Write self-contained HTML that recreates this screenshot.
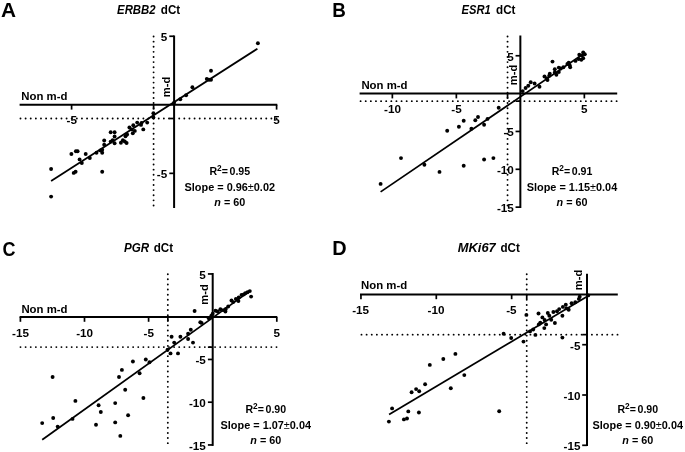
<!DOCTYPE html>
<html lang="en"><head><meta charset="utf-8"><title>dCt correlation</title>
<style>
html,body{margin:0;padding:0;background:#fff;}
svg{display:block;will-change:transform;font-family:"Liberation Sans", sans-serif;fill:#000;}
</style></head><body>
<svg width="685" height="452" viewBox="0 0 685 452">
<rect width="685" height="452" fill="#fff"/>
<text x="1.00" y="16.80" font-size="20.8" font-weight="bold" font-style="normal" >A</text>
<text x="117.10" y="14.00" font-size="12" font-weight="bold" font-style="italic" textLength="38.5" lengthAdjust="spacingAndGlyphs" >ERBB2</text>
<text x="160.80" y="14.00" font-size="12" font-weight="bold" font-style="normal" textLength="19.4" lengthAdjust="spacingAndGlyphs" >dCt</text>
<line x1="153.60" y1="36.50" x2="153.60" y2="206.30" stroke="#000" stroke-width="1.9" stroke-linecap="round" stroke-dasharray="0.01 5.11"/>
<line x1="20.50" y1="118.51" x2="277.00" y2="118.51" stroke="#000" stroke-width="1.9" stroke-linecap="round" stroke-dasharray="0.01 5.11"/>
<line x1="19.60" y1="104.80" x2="277.30" y2="104.80" stroke="#000" stroke-width="2" />
<line x1="174.10" y1="35.50" x2="174.10" y2="208.00" stroke="#000" stroke-width="2" />
<line x1="169.30" y1="36.25" x2="174.10" y2="36.25" stroke="#000" stroke-width="1.7" />
<line x1="169.30" y1="118.51" x2="174.10" y2="118.51" stroke="#000" stroke-width="1.7" />
<line x1="169.30" y1="173.35" x2="174.10" y2="173.35" stroke="#000" stroke-width="1.7" />
<line x1="71.60" y1="104.80" x2="71.60" y2="109.60" stroke="#000" stroke-width="1.7" />
<line x1="153.60" y1="104.80" x2="153.60" y2="109.60" stroke="#000" stroke-width="1.7" />
<line x1="276.60" y1="104.80" x2="276.60" y2="109.60" stroke="#000" stroke-width="1.7" />
<text x="167.20" y="41.15" font-size="11.7" font-weight="bold" font-style="normal" text-anchor="end" >5</text>
<text x="167.20" y="178.25" font-size="11.7" font-weight="bold" font-style="normal" text-anchor="end" >-5</text>
<text x="71.80" y="124.10" font-size="11.7" font-weight="bold" font-style="normal" text-anchor="middle" >-5</text>
<text x="276.60" y="124.10" font-size="11.7" font-weight="bold" font-style="normal" text-anchor="middle" >5</text>
<text x="21.30" y="99.50" font-size="10.6" font-weight="bold" font-style="normal" textLength="46.2" lengthAdjust="spacingAndGlyphs" >Non m-d</text>
<text x="170.20" y="97.30" font-size="10.6" font-weight="bold" font-style="normal" textLength="20.6" lengthAdjust="spacingAndGlyphs" transform="rotate(-90 170.20 97.30)" >m-d</text>
<text x="229.80" y="174.90" font-size="10.600000000000001" font-weight="bold" font-style="normal" text-anchor="middle" word-spacing="-1.3">R<tspan dy="-3.5" font-size="8.3">2</tspan><tspan dy="3.5">= 0.95</tspan></text>
<text x="229.80" y="191.10" font-size="10.9" font-weight="bold" font-style="normal" text-anchor="middle" >Slope = 0.96<tspan font-weight="normal">±</tspan>0.02</text>
<text x="229.80" y="206.10" font-size="10.8" font-weight="bold" font-style="normal" text-anchor="middle" ><tspan font-style="italic">n</tspan> = 60</text>
<line x1="51.10" y1="181.10" x2="257.40" y2="48.70" stroke="#000" stroke-width="1.75" />
<circle cx="51.1" cy="169.0" r="1.95"/>
<circle cx="51.1" cy="196.6" r="1.95"/>
<circle cx="71.4" cy="154.0" r="1.95"/>
<circle cx="75.9" cy="151.2" r="1.95"/>
<circle cx="77.6" cy="151.2" r="1.95"/>
<circle cx="85.7" cy="154.0" r="1.95"/>
<circle cx="79.6" cy="159.4" r="1.95"/>
<circle cx="81.8" cy="163.0" r="1.95"/>
<circle cx="89.8" cy="158.0" r="1.95"/>
<circle cx="73.7" cy="172.9" r="1.95"/>
<circle cx="75.6" cy="171.8" r="1.95"/>
<circle cx="102.2" cy="171.8" r="1.95"/>
<circle cx="96.5" cy="152.8" r="1.95"/>
<circle cx="100.4" cy="150.4" r="1.95"/>
<circle cx="102.2" cy="149.7" r="1.95"/>
<circle cx="102.2" cy="152.8" r="1.95"/>
<circle cx="104.2" cy="140.5" r="1.95"/>
<circle cx="104.2" cy="144.7" r="1.95"/>
<circle cx="110.7" cy="132.3" r="1.95"/>
<circle cx="114.6" cy="132.3" r="1.95"/>
<circle cx="114.6" cy="136.5" r="1.95"/>
<circle cx="110.7" cy="141.6" r="1.95"/>
<circle cx="112.7" cy="140.1" r="1.95"/>
<circle cx="114.6" cy="143.2" r="1.95"/>
<circle cx="120.9" cy="142.7" r="1.95"/>
<circle cx="122.9" cy="140.2" r="1.95"/>
<circle cx="124.8" cy="141.5" r="1.95"/>
<circle cx="126.6" cy="143.0" r="1.95"/>
<circle cx="125.5" cy="136.3" r="1.95"/>
<circle cx="127.1" cy="134.5" r="1.95"/>
<circle cx="132.8" cy="133.2" r="1.95"/>
<circle cx="134.8" cy="130.9" r="1.95"/>
<circle cx="131.7" cy="129.4" r="1.95"/>
<circle cx="129.4" cy="127.5" r="1.95"/>
<circle cx="133.3" cy="125.2" r="1.95"/>
<circle cx="143.3" cy="129.4" r="1.95"/>
<circle cx="141.0" cy="124.9" r="1.95"/>
<circle cx="141.5" cy="122.9" r="1.95"/>
<circle cx="137.2" cy="122.6" r="1.95"/>
<circle cx="147.2" cy="122.6" r="1.95"/>
<circle cx="153.4" cy="117.4" r="1.95"/>
<circle cx="153.4" cy="113.3" r="1.95"/>
<circle cx="174.1" cy="102.7" r="1.95"/>
<circle cx="180.3" cy="99.3" r="1.95"/>
<circle cx="186.1" cy="95.2" r="1.95"/>
<circle cx="192.4" cy="87.2" r="1.95"/>
<circle cx="206.8" cy="78.9" r="1.95"/>
<circle cx="209.0" cy="79.8" r="1.95"/>
<circle cx="211.0" cy="79.8" r="1.95"/>
<circle cx="211.0" cy="70.7" r="1.95"/>
<circle cx="257.9" cy="43.3" r="1.95"/>
<text x="332.30" y="16.90" font-size="20.8" font-weight="bold" font-style="normal" textLength="13.6" lengthAdjust="spacingAndGlyphs" >B</text>
<text x="461.60" y="14.00" font-size="12" font-weight="bold" font-style="italic" textLength="29.2" lengthAdjust="spacingAndGlyphs" >ESR1</text>
<text x="496.10" y="14.00" font-size="12" font-weight="bold" font-style="normal" textLength="19.4" lengthAdjust="spacingAndGlyphs" >dCt</text>
<line x1="507.55" y1="36.50" x2="507.55" y2="206.30" stroke="#000" stroke-width="1.9" stroke-linecap="round" stroke-dasharray="0.01 5.11"/>
<line x1="360.60" y1="101.17" x2="617.00" y2="101.17" stroke="#000" stroke-width="1.9" stroke-linecap="round" stroke-dasharray="0.01 5.11"/>
<line x1="359.60" y1="93.60" x2="617.20" y2="93.60" stroke="#000" stroke-width="2" />
<line x1="520.35" y1="35.50" x2="520.35" y2="208.00" stroke="#000" stroke-width="2" />
<line x1="515.55" y1="55.75" x2="520.35" y2="55.75" stroke="#000" stroke-width="1.7" />
<line x1="515.55" y1="101.17" x2="520.35" y2="101.17" stroke="#000" stroke-width="1.7" />
<line x1="515.55" y1="131.45" x2="520.35" y2="131.45" stroke="#000" stroke-width="1.7" />
<line x1="515.55" y1="169.30" x2="520.35" y2="169.30" stroke="#000" stroke-width="1.7" />
<line x1="515.55" y1="207.15" x2="520.35" y2="207.15" stroke="#000" stroke-width="1.7" />
<line x1="392.35" y1="93.60" x2="392.35" y2="98.40" stroke="#000" stroke-width="1.7" />
<line x1="456.35" y1="93.60" x2="456.35" y2="98.40" stroke="#000" stroke-width="1.7" />
<line x1="507.55" y1="93.60" x2="507.55" y2="98.40" stroke="#000" stroke-width="1.7" />
<line x1="584.35" y1="93.60" x2="584.35" y2="98.40" stroke="#000" stroke-width="1.7" />
<text x="513.80" y="60.65" font-size="11.7" font-weight="bold" font-style="normal" text-anchor="end" >5</text>
<text x="513.80" y="136.35" font-size="11.7" font-weight="bold" font-style="normal" text-anchor="end" >-5</text>
<text x="513.80" y="174.20" font-size="11.7" font-weight="bold" font-style="normal" text-anchor="end" >-10</text>
<text x="513.80" y="212.05" font-size="11.7" font-weight="bold" font-style="normal" text-anchor="end" >-15</text>
<text x="392.55" y="113.10" font-size="11.7" font-weight="bold" font-style="normal" text-anchor="middle" >-10</text>
<text x="456.55" y="113.10" font-size="11.7" font-weight="bold" font-style="normal" text-anchor="middle" >-5</text>
<text x="584.35" y="113.10" font-size="11.7" font-weight="bold" font-style="normal" text-anchor="middle" >5</text>
<text x="361.40" y="89.00" font-size="10.6" font-weight="bold" font-style="normal" textLength="46.2" lengthAdjust="spacingAndGlyphs" >Non m-d</text>
<text x="516.70" y="85.20" font-size="10.6" font-weight="bold" font-style="normal" textLength="20.6" lengthAdjust="spacingAndGlyphs" transform="rotate(-90 516.70 85.20)" >m-d</text>
<text x="572.00" y="174.90" font-size="10.600000000000001" font-weight="bold" font-style="normal" text-anchor="middle" word-spacing="-1.3">R<tspan dy="-3.5" font-size="8.3">2</tspan><tspan dy="3.5">= 0.91</tspan></text>
<text x="572.00" y="191.10" font-size="10.9" font-weight="bold" font-style="normal" text-anchor="middle" >Slope = 1.15<tspan font-weight="normal">±</tspan>0.04</text>
<text x="572.00" y="206.10" font-size="10.8" font-weight="bold" font-style="normal" text-anchor="middle" ><tspan font-style="italic">n</tspan> = 60</text>
<line x1="380.60" y1="191.90" x2="584.70" y2="53.00" stroke="#000" stroke-width="1.75" />
<circle cx="380.6" cy="183.9" r="1.95"/>
<circle cx="401.0" cy="158.1" r="1.95"/>
<circle cx="424.4" cy="164.8" r="1.95"/>
<circle cx="439.5" cy="171.9" r="1.95"/>
<circle cx="463.7" cy="165.8" r="1.95"/>
<circle cx="484.1" cy="159.5" r="1.95"/>
<circle cx="493.4" cy="158.1" r="1.95"/>
<circle cx="447.2" cy="130.8" r="1.95"/>
<circle cx="458.9" cy="126.8" r="1.95"/>
<circle cx="463.7" cy="120.7" r="1.95"/>
<circle cx="471.4" cy="128.7" r="1.95"/>
<circle cx="475.3" cy="120.2" r="1.95"/>
<circle cx="478.0" cy="117.0" r="1.95"/>
<circle cx="484.1" cy="124.7" r="1.95"/>
<circle cx="487.5" cy="118.9" r="1.95"/>
<circle cx="498.7" cy="107.7" r="1.95"/>
<circle cx="522.7" cy="91.1" r="1.95"/>
<circle cx="525.6" cy="88.0" r="1.95"/>
<circle cx="528.3" cy="85.8" r="1.95"/>
<circle cx="530.7" cy="82.2" r="1.95"/>
<circle cx="534.6" cy="83.5" r="1.95"/>
<circle cx="539.5" cy="86.7" r="1.95"/>
<circle cx="544.5" cy="76.5" r="1.95"/>
<circle cx="546.8" cy="78.5" r="1.95"/>
<circle cx="547.5" cy="80.1" r="1.95"/>
<circle cx="549.8" cy="73.8" r="1.95"/>
<circle cx="549.2" cy="75.8" r="1.95"/>
<circle cx="552.5" cy="61.6" r="1.95"/>
<circle cx="554.8" cy="69.2" r="1.95"/>
<circle cx="554.8" cy="72.5" r="1.95"/>
<circle cx="556.4" cy="74.8" r="1.95"/>
<circle cx="558.8" cy="72.1" r="1.95"/>
<circle cx="558.8" cy="67.6" r="1.95"/>
<circle cx="560.8" cy="68.5" r="1.95"/>
<circle cx="563.4" cy="67.2" r="1.95"/>
<circle cx="567.4" cy="63.9" r="1.95"/>
<circle cx="568.7" cy="62.8" r="1.95"/>
<circle cx="569.7" cy="65.2" r="1.95"/>
<circle cx="570.2" cy="67.2" r="1.95"/>
<circle cx="575.5" cy="60.9" r="1.95"/>
<circle cx="578.6" cy="59.0" r="1.95"/>
<circle cx="581.3" cy="59.7" r="1.95"/>
<circle cx="583.2" cy="58.2" r="1.95"/>
<circle cx="579.3" cy="54.7" r="1.95"/>
<circle cx="582.0" cy="55.5" r="1.95"/>
<circle cx="583.2" cy="52.4" r="1.95"/>
<circle cx="584.8" cy="54.3" r="1.95"/>
<text x="2.40" y="255.70" font-size="20.8" font-weight="bold" font-style="normal" textLength="13.0" lengthAdjust="spacingAndGlyphs" >C</text>
<text x="124.00" y="251.50" font-size="12" font-weight="bold" font-style="italic" textLength="25.2" lengthAdjust="spacingAndGlyphs" >PGR</text>
<text x="153.70" y="251.50" font-size="12" font-weight="bold" font-style="normal" textLength="19.4" lengthAdjust="spacingAndGlyphs" >dCt</text>
<line x1="167.83" y1="274.20" x2="167.83" y2="444.50" stroke="#000" stroke-width="1.9" stroke-linecap="round" stroke-dasharray="0.01 5.11"/>
<line x1="20.50" y1="347.12" x2="277.00" y2="347.12" stroke="#000" stroke-width="1.9" stroke-linecap="round" stroke-dasharray="0.01 5.11"/>
<line x1="19.60" y1="317.10" x2="277.30" y2="317.10" stroke="#000" stroke-width="2" />
<line x1="212.70" y1="273.00" x2="212.70" y2="445.90" stroke="#000" stroke-width="2" />
<line x1="207.90" y1="273.95" x2="212.70" y2="273.95" stroke="#000" stroke-width="1.7" />
<line x1="207.90" y1="347.14" x2="212.70" y2="347.14" stroke="#000" stroke-width="1.7" />
<line x1="207.90" y1="359.45" x2="212.70" y2="359.45" stroke="#000" stroke-width="1.7" />
<line x1="207.90" y1="402.20" x2="212.70" y2="402.20" stroke="#000" stroke-width="1.7" />
<line x1="207.90" y1="444.95" x2="212.70" y2="444.95" stroke="#000" stroke-width="1.7" />
<line x1="20.40" y1="317.10" x2="20.40" y2="321.80" stroke="#000" stroke-width="1.7" />
<line x1="84.50" y1="317.10" x2="84.50" y2="321.80" stroke="#000" stroke-width="1.7" />
<line x1="148.60" y1="317.10" x2="148.60" y2="321.80" stroke="#000" stroke-width="1.7" />
<line x1="167.83" y1="317.10" x2="167.83" y2="321.80" stroke="#000" stroke-width="1.7" />
<line x1="276.80" y1="317.10" x2="276.80" y2="321.80" stroke="#000" stroke-width="1.7" />
<text x="205.80" y="278.85" font-size="11.7" font-weight="bold" font-style="normal" text-anchor="end" >5</text>
<text x="205.80" y="364.35" font-size="11.7" font-weight="bold" font-style="normal" text-anchor="end" >-5</text>
<text x="205.80" y="407.10" font-size="11.7" font-weight="bold" font-style="normal" text-anchor="end" >-10</text>
<text x="205.80" y="449.85" font-size="11.7" font-weight="bold" font-style="normal" text-anchor="end" >-15</text>
<text x="20.50" y="336.60" font-size="11.7" font-weight="bold" font-style="normal" text-anchor="middle" >-15</text>
<text x="84.60" y="336.60" font-size="11.7" font-weight="bold" font-style="normal" text-anchor="middle" >-10</text>
<text x="148.70" y="336.60" font-size="11.7" font-weight="bold" font-style="normal" text-anchor="middle" >-5</text>
<text x="276.80" y="336.60" font-size="11.7" font-weight="bold" font-style="normal" text-anchor="middle" >5</text>
<text x="21.40" y="312.90" font-size="10.6" font-weight="bold" font-style="normal" textLength="46.2" lengthAdjust="spacingAndGlyphs" >Non m-d</text>
<text x="208.10" y="304.80" font-size="10.6" font-weight="bold" font-style="normal" textLength="20.6" lengthAdjust="spacingAndGlyphs" transform="rotate(-90 208.10 304.80)" >m-d</text>
<text x="265.80" y="412.90" font-size="10.600000000000001" font-weight="bold" font-style="normal" text-anchor="middle" word-spacing="-1.3">R<tspan dy="-3.5" font-size="8.3">2</tspan><tspan dy="3.5">= 0.90</tspan></text>
<text x="265.80" y="429.10" font-size="10.9" font-weight="bold" font-style="normal" text-anchor="middle" >Slope = 1.07<tspan font-weight="normal">±</tspan>0.04</text>
<text x="265.80" y="444.10" font-size="10.8" font-weight="bold" font-style="normal" text-anchor="middle" ><tspan font-style="italic">n</tspan> = 60</text>
<line x1="42.20" y1="439.70" x2="250.20" y2="290.90" stroke="#000" stroke-width="1.75" />
<circle cx="42.2" cy="423.1" r="1.95"/>
<circle cx="52.6" cy="377.0" r="1.95"/>
<circle cx="53.2" cy="418.0" r="1.95"/>
<circle cx="57.7" cy="426.6" r="1.95"/>
<circle cx="72.5" cy="418.9" r="1.95"/>
<circle cx="75.4" cy="400.9" r="1.95"/>
<circle cx="96.0" cy="424.8" r="1.95"/>
<circle cx="98.6" cy="405.3" r="1.95"/>
<circle cx="100.8" cy="412.0" r="1.95"/>
<circle cx="115.2" cy="403.1" r="1.95"/>
<circle cx="115.2" cy="422.4" r="1.95"/>
<circle cx="120.3" cy="435.9" r="1.95"/>
<circle cx="128.1" cy="415.3" r="1.95"/>
<circle cx="125.2" cy="389.8" r="1.95"/>
<circle cx="119.0" cy="377.0" r="1.95"/>
<circle cx="121.9" cy="369.9" r="1.95"/>
<circle cx="132.9" cy="361.5" r="1.95"/>
<circle cx="139.6" cy="373.2" r="1.95"/>
<circle cx="143.4" cy="398.0" r="1.95"/>
<circle cx="145.8" cy="359.5" r="1.95"/>
<circle cx="149.5" cy="362.2" r="1.95"/>
<circle cx="167.6" cy="349.6" r="1.95"/>
<circle cx="170.5" cy="353.4" r="1.95"/>
<circle cx="178.0" cy="353.4" r="1.95"/>
<circle cx="171.6" cy="336.8" r="1.95"/>
<circle cx="174.2" cy="342.6" r="1.95"/>
<circle cx="180.4" cy="336.8" r="1.95"/>
<circle cx="188.1" cy="333.7" r="1.95"/>
<circle cx="188.1" cy="339.0" r="1.95"/>
<circle cx="190.8" cy="329.7" r="1.95"/>
<circle cx="193.0" cy="342.6" r="1.95"/>
<circle cx="194.6" cy="311.0" r="1.95"/>
<circle cx="200.3" cy="322.3" r="1.95"/>
<circle cx="201.6" cy="322.9" r="1.95"/>
<circle cx="208.8" cy="318.2" r="1.95"/>
<circle cx="211.4" cy="315.6" r="1.95"/>
<circle cx="212.7" cy="313.7" r="1.95"/>
<circle cx="215.5" cy="310.8" r="1.95"/>
<circle cx="217.7" cy="311.5" r="1.95"/>
<circle cx="220.4" cy="309.3" r="1.95"/>
<circle cx="223.2" cy="310.1" r="1.95"/>
<circle cx="225.4" cy="311.5" r="1.95"/>
<circle cx="225.8" cy="309.0" r="1.95"/>
<circle cx="228.2" cy="306.5" r="1.95"/>
<circle cx="231.5" cy="300.5" r="1.95"/>
<circle cx="233.2" cy="302.1" r="1.95"/>
<circle cx="235.9" cy="299.0" r="1.95"/>
<circle cx="238.4" cy="301.0" r="1.95"/>
<circle cx="238.7" cy="297.5" r="1.95"/>
<circle cx="241.5" cy="294.9" r="1.95"/>
<circle cx="243.7" cy="294.4" r="1.95"/>
<circle cx="245.3" cy="293.3" r="1.95"/>
<circle cx="247.5" cy="292.2" r="1.95"/>
<circle cx="249.8" cy="291.1" r="1.95"/>
<circle cx="251.1" cy="296.6" r="1.95"/>
<text x="332.30" y="255.40" font-size="20.8" font-weight="bold" font-style="normal" textLength="14.4" lengthAdjust="spacingAndGlyphs" >D</text>
<text x="457.80" y="251.60" font-size="12" font-weight="bold" font-style="italic" textLength="38.0" lengthAdjust="spacingAndGlyphs" >MKi67</text>
<text x="500.40" y="251.60" font-size="12" font-weight="bold" font-style="normal" textLength="19.4" lengthAdjust="spacingAndGlyphs" >dCt</text>
<line x1="526.72" y1="274.20" x2="526.72" y2="444.50" stroke="#000" stroke-width="1.9" stroke-linecap="round" stroke-dasharray="0.01 5.11"/>
<line x1="361.50" y1="334.64" x2="618.00" y2="334.64" stroke="#000" stroke-width="1.9" stroke-linecap="round" stroke-dasharray="0.01 5.11"/>
<line x1="360.00" y1="294.40" x2="617.80" y2="294.40" stroke="#000" stroke-width="2" />
<line x1="587.00" y1="273.80" x2="587.00" y2="446.10" stroke="#000" stroke-width="2" />
<line x1="582.20" y1="334.64" x2="587.00" y2="334.64" stroke="#000" stroke-width="1.7" />
<line x1="582.20" y1="344.70" x2="587.00" y2="344.70" stroke="#000" stroke-width="1.7" />
<line x1="582.20" y1="395.00" x2="587.00" y2="395.00" stroke="#000" stroke-width="1.7" />
<line x1="582.20" y1="445.30" x2="587.00" y2="445.30" stroke="#000" stroke-width="1.7" />
<line x1="360.95" y1="294.40" x2="360.95" y2="299.20" stroke="#000" stroke-width="1.7" />
<line x1="436.30" y1="294.40" x2="436.30" y2="299.20" stroke="#000" stroke-width="1.7" />
<line x1="511.65" y1="294.40" x2="511.65" y2="299.20" stroke="#000" stroke-width="1.7" />
<line x1="526.72" y1="294.40" x2="526.72" y2="299.20" stroke="#000" stroke-width="1.7" />
<text x="580.40" y="349.60" font-size="11.7" font-weight="bold" font-style="normal" text-anchor="end" >-5</text>
<text x="580.40" y="399.90" font-size="11.7" font-weight="bold" font-style="normal" text-anchor="end" >-10</text>
<text x="580.40" y="450.20" font-size="11.7" font-weight="bold" font-style="normal" text-anchor="end" >-15</text>
<text x="360.65" y="314.40" font-size="11.7" font-weight="bold" font-style="normal" text-anchor="middle" >-15</text>
<text x="436.00" y="314.40" font-size="11.7" font-weight="bold" font-style="normal" text-anchor="middle" >-10</text>
<text x="511.35" y="314.40" font-size="11.7" font-weight="bold" font-style="normal" text-anchor="middle" >-5</text>
<text x="361.00" y="289.10" font-size="10.6" font-weight="bold" font-style="normal" textLength="46.2" lengthAdjust="spacingAndGlyphs" >Non m-d</text>
<text x="581.90" y="290.30" font-size="10.6" font-weight="bold" font-style="normal" textLength="20.6" lengthAdjust="spacingAndGlyphs" transform="rotate(-90 581.90 290.30)" >m-d</text>
<text x="637.80" y="412.90" font-size="10.600000000000001" font-weight="bold" font-style="normal" text-anchor="middle" word-spacing="-1.3">R<tspan dy="-3.5" font-size="8.3">2</tspan><tspan dy="3.5">= 0.90</tspan></text>
<text x="637.80" y="429.10" font-size="10.9" font-weight="bold" font-style="normal" text-anchor="middle" >Slope = 0.90<tspan font-weight="normal">±</tspan>0.04</text>
<text x="637.80" y="444.10" font-size="10.8" font-weight="bold" font-style="normal" text-anchor="middle" ><tspan font-style="italic">n</tspan> = 60</text>
<line x1="389.10" y1="414.60" x2="589.60" y2="295.00" stroke="#000" stroke-width="1.75" />
<circle cx="388.9" cy="421.6" r="1.95"/>
<circle cx="392.1" cy="408.4" r="1.95"/>
<circle cx="403.9" cy="419.4" r="1.95"/>
<circle cx="407.0" cy="418.5" r="1.95"/>
<circle cx="408.3" cy="411.4" r="1.95"/>
<circle cx="418.9" cy="412.5" r="1.95"/>
<circle cx="411.6" cy="392.2" r="1.95"/>
<circle cx="416.1" cy="389.1" r="1.95"/>
<circle cx="419.2" cy="391.3" r="1.95"/>
<circle cx="425.1" cy="384.2" r="1.95"/>
<circle cx="429.8" cy="364.9" r="1.95"/>
<circle cx="443.3" cy="359.0" r="1.95"/>
<circle cx="455.4" cy="353.9" r="1.95"/>
<circle cx="450.8" cy="388.2" r="1.95"/>
<circle cx="464.3" cy="375.1" r="1.95"/>
<circle cx="499.2" cy="411.2" r="1.95"/>
<circle cx="503.6" cy="333.8" r="1.95"/>
<circle cx="511.2" cy="338.0" r="1.95"/>
<circle cx="523.5" cy="341.6" r="1.95"/>
<circle cx="526.4" cy="314.9" r="1.95"/>
<circle cx="535.4" cy="334.9" r="1.95"/>
<circle cx="538.5" cy="313.5" r="1.95"/>
<circle cx="530.0" cy="331.4" r="1.95"/>
<circle cx="533.2" cy="329.5" r="1.95"/>
<circle cx="538.8" cy="324.4" r="1.95"/>
<circle cx="540.3" cy="322.7" r="1.95"/>
<circle cx="542.4" cy="317.4" r="1.95"/>
<circle cx="544.6" cy="320.0" r="1.95"/>
<circle cx="546.1" cy="324.4" r="1.95"/>
<circle cx="544.3" cy="328.1" r="1.95"/>
<circle cx="547.8" cy="313.0" r="1.95"/>
<circle cx="549.3" cy="315.7" r="1.95"/>
<circle cx="551.2" cy="319.7" r="1.95"/>
<circle cx="553.4" cy="312.0" r="1.95"/>
<circle cx="554.9" cy="323.0" r="1.95"/>
<circle cx="557.0" cy="311.3" r="1.95"/>
<circle cx="559.2" cy="309.1" r="1.95"/>
<circle cx="562.4" cy="315.7" r="1.95"/>
<circle cx="562.4" cy="337.6" r="1.95"/>
<circle cx="562.9" cy="306.9" r="1.95"/>
<circle cx="565.8" cy="304.7" r="1.95"/>
<circle cx="566.5" cy="308.4" r="1.95"/>
<circle cx="568.7" cy="309.8" r="1.95"/>
<circle cx="571.6" cy="303.2" r="1.95"/>
<circle cx="575.3" cy="302.2" r="1.95"/>
<circle cx="578.9" cy="298.9" r="1.95"/>
<circle cx="579.7" cy="296.7" r="1.95"/>
<circle cx="588.2" cy="295.4" r="1.95"/>
</svg>
</body></html>
